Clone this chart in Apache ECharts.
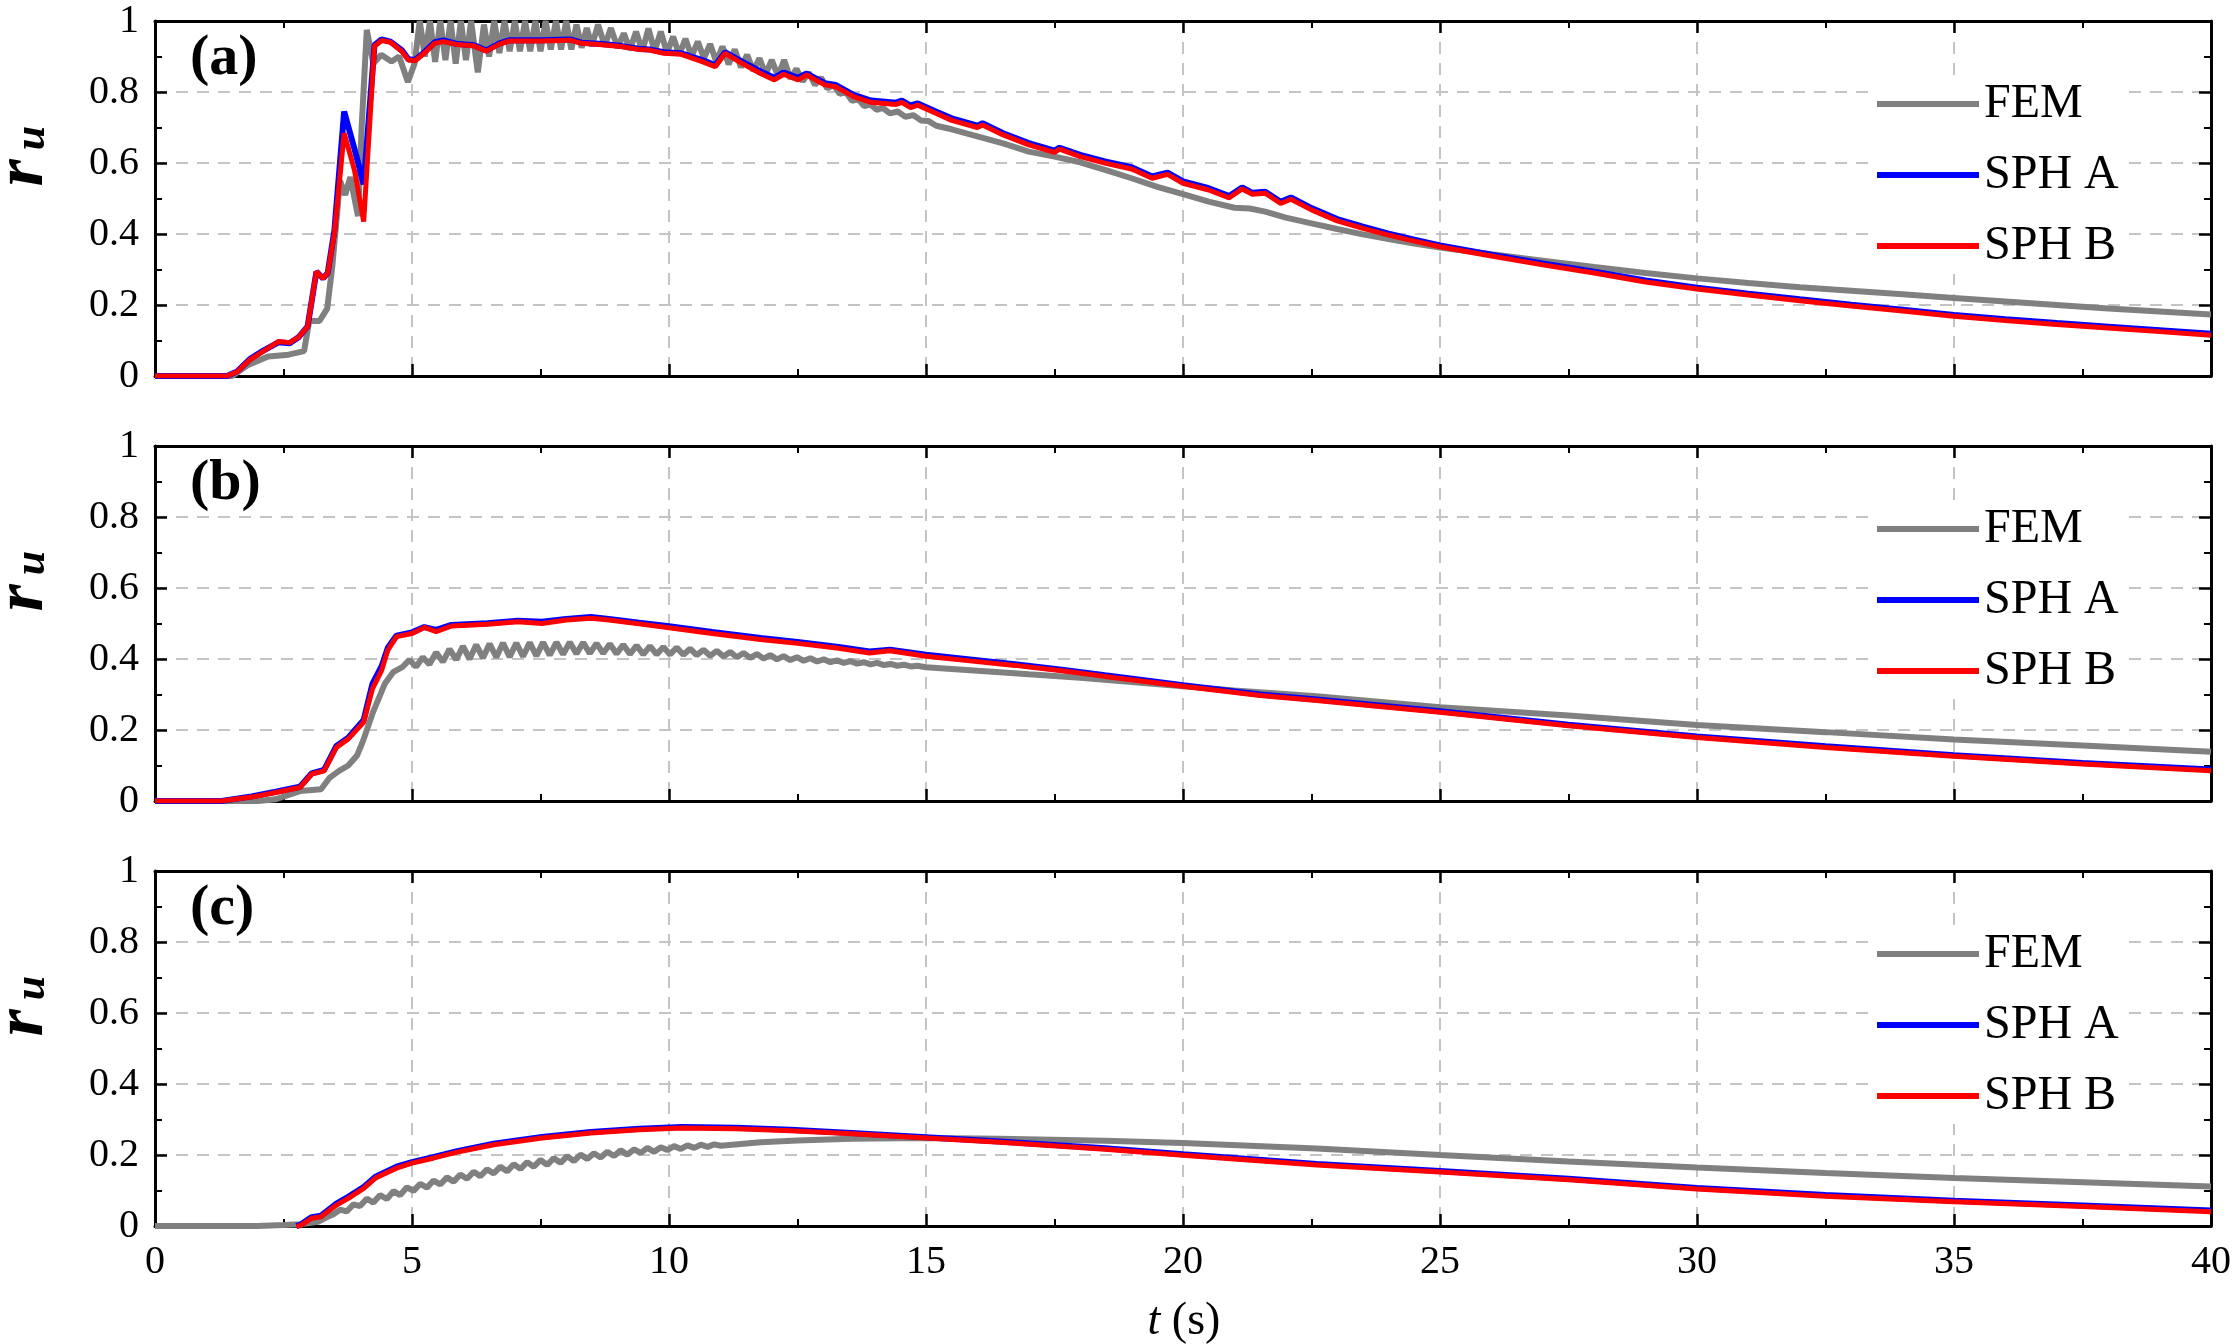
<!DOCTYPE html>
<html><head><meta charset="utf-8">
<script src="https://cdn.jsdelivr.net/npm/echarts@6/dist/echarts.min.js"></script>
<style>html,body{margin:0;padding:0;background:#fff}#c{width:2238px;height:1344px}</style>
</head><body><div id="c"></div>
<script>
// ---------- DATA ----------
const xTickLabels = ['0','5','10','15','20','25','30','35','40'];
const yTickLabels = ['0','0.2','0.4','0.6','0.8','1'];
const panelLabels = ['(a)','(b)','(c)'];
const seriesNames = ['FEM','SPH A','SPH B'];

// FEM, panel (a): [t, r_u]
const femA = [[0,0],[1.5,0],[1.8,0.03],[2.2,0.055],[2.6,0.06],[2.9,0.07],[3.0,0.155],[3.2,0.155],[3.35,0.19],[3.45,0.31],[3.6,0.55],[3.7,0.51],[3.8,0.56],[3.95,0.45],[4.02,0.7],[4.12,0.975],[4.25,0.88],[4.4,0.905],[4.6,0.886],[4.75,0.9],[4.92,0.828],[5.05,0.88],
[5.15,1.0],[5.25,0.9],[5.35,1.0],[5.45,0.885],[5.55,1.0],[5.65,0.89],[5.75,1.0],[5.85,0.88],[5.95,1.0],[6.05,0.89],[6.15,1.0],[6.28,0.855],[6.4,0.99],[6.5,0.9],[6.6,1.0],[6.7,0.91],[6.8,1.0],[6.9,0.915],[7.0,1.0],[7.1,0.915],[7.2,1.0],[7.3,0.915],[7.4,1.0],[7.5,0.915],[7.6,1.0],[7.7,0.92],[7.8,1.0],[7.9,0.92],[8.0,1.0],[8.1,0.92],[8.2,0.99],[8.3,0.925],[8.4,0.98],[8.5,0.93],[8.62,0.99],[8.75,0.93],[8.87,0.98],
[9.0,0.925],[9.12,0.965],[9.24,0.92],[9.36,0.97],[9.48,0.915],[9.6,0.979],[9.72,0.915],[9.84,0.97],[9.96,0.91],[10.08,0.956],[10.2,0.905],[10.32,0.95],[10.44,0.9],[10.56,0.942],[10.68,0.895],[10.8,0.935],[10.92,0.885],[11.04,0.928],[11.16,0.878],[11.28,0.92],[11.4,0.87],[11.52,0.905],[11.64,0.86],[11.76,0.895],[11.88,0.85],[12.0,0.89],[12.12,0.845],[12.24,0.89],[12.36,0.838],[12.48,0.865],[12.6,0.83],[12.72,0.855],[12.84,0.82],[12.96,0.84],[13.08,0.81],[13.2,0.82],[13.32,0.795],[13.44,0.8],[13.56,0.775],[13.68,0.78],[13.8,0.76],[13.92,0.765],[14.04,0.75],[14.16,0.755],[14.3,0.74],[14.45,0.745],[14.6,0.73],[14.75,0.735],[14.9,0.72],[15.05,0.718],[15.2,0.705],[15.5,0.695],[16,0.675],[16.5,0.655],[17,0.632],[17.5,0.618],[18,0.602],[18.5,0.58],[19,0.557],[19.5,0.533],[20,0.512],[20.5,0.491],[21,0.474],[21.3,0.472],[21.6,0.463],[22,0.446],[22.5,0.43],[23,0.414],[23.5,0.399],[24,0.386],[24.5,0.373],[25,0.362],[26,0.343],[27,0.325],[28,0.307],[29,0.29],[30,0.275],[31,0.262],[32,0.25],[33,0.24],[34,0.23],[35,0.22],[36,0.21],[37,0.2],[38,0.19],[39,0.182],[40,0.173]];

// SPH, panel (a): [t, SPH A, SPH B]
const sphA = [[0,0,0],[1.4,0,0],[1.6,0.013,0.012],[1.84,0.047,0.045],[2.1,0.071,0.069],[2.4,0.095,0.097],[2.62,0.092,0.094],[2.8,0.11,0.11],[2.97,0.14,0.139],[3.14,0.294,0.294],[3.27,0.275,0.275],[3.36,0.29,0.29],[3.49,0.41,0.4],[3.68,0.745,0.684],[3.88,0.64,0.58],[4.06,0.54,0.435],[4.27,0.932,0.929],[4.41,0.948,0.945],[4.58,0.942,0.94],[4.8,0.918,0.915],[4.93,0.892,0.89],[5.06,0.89,0.888],[5.26,0.915,0.912],[5.44,0.94,0.937],[5.61,0.945,0.942],[5.86,0.936,0.934],[6.2,0.932,0.93],[6.45,0.917,0.915],[6.69,0.936,0.934],[6.9,0.946,0.944],[7.5,0.946,0.944],[8.08,0.948,0.946],[8.3,0.939,0.937],[8.64,0.936,0.934],[9.06,0.93,0.928],[9.41,0.922,0.92],[9.62,0.92,0.918],[9.9,0.912,0.909],[10.24,0.909,0.906],[10.66,0.889,0.885],[10.9,0.875,0.871],[11.09,0.912,0.909],[11.43,0.885,0.88],[11.78,0.858,0.852],[12.05,0.84,0.834],[12.23,0.855,0.85],[12.51,0.84,0.834],[12.68,0.852,0.848],[13.03,0.825,0.82],[13.24,0.82,0.815],[13.59,0.792,0.787],[13.93,0.776,0.771],[14.42,0.77,0.765],[14.53,0.776,0.771],[14.7,0.762,0.756],[14.84,0.768,0.763],[15.19,0.745,0.74],[15.5,0.726,0.72],[16.0,0.705,0.7],[16.1,0.712,0.707],[16.5,0.684,0.679],[17.0,0.656,0.651],[17.5,0.635,0.63],[17.6,0.643,0.639],[18.0,0.623,0.618],[18.5,0.604,0.599],[19.0,0.588,0.583],[19.4,0.562,0.557],[19.7,0.573,0.568],[20.0,0.548,0.543],[20.5,0.529,0.524],[20.9,0.507,0.502],[21.15,0.531,0.527],[21.35,0.516,0.512],[21.6,0.519,0.515],[21.9,0.491,0.486],[22.1,0.503,0.498],[22.5,0.473,0.468],[23.0,0.442,0.437],[23.5,0.421,0.416],[24.0,0.401,0.397],[24.5,0.384,0.38],[25,0.368,0.364],[26,0.342,0.338],[27,0.317,0.313],[28,0.294,0.29],[29,0.269,0.265],[30,0.249,0.245],[31,0.232,0.228],[32,0.216,0.212],[33,0.201,0.197],[34,0.187,0.183],[35,0.172,0.168],[36,0.16,0.156],[37,0.149,0.145],[38,0.139,0.135],[39,0.129,0.125],[40,0.119,0.115]];

// FEM, panel (b)
const femB = [[0,0],[2.0,0],[2.35,0.005],[2.82,0.028],[3.23,0.033],[3.4,0.066],[3.58,0.085],[3.76,0.1],[3.93,0.128],[4.05,0.17],[4.23,0.246],[4.47,0.33],[4.64,0.364],[4.82,0.378],
[4.95,0.398],[5.08,0.378],[5.21,0.405],[5.34,0.385],[5.47,0.418],[5.6,0.392],[5.73,0.428],[5.86,0.398],[5.99,0.436],[6.12,0.4],[6.25,0.44],[6.38,0.403],[6.51,0.443],[6.64,0.405],[6.77,0.445],[6.9,0.406],[7.03,0.445],[7.16,0.407],[7.29,0.446],[7.42,0.409],[7.55,0.447],[7.68,0.411],[7.81,0.447],[7.94,0.413],[8.07,0.447],[8.2,0.415],[8.33,0.446],[8.46,0.416],[8.59,0.444],[8.72,0.416],[8.85,0.442],[8.98,0.415],[9.11,0.44],[9.24,0.414],[9.37,0.438],[9.5,0.413],[9.63,0.436],[9.76,0.413],[9.89,0.434],[10.02,0.413],[10.15,0.432],[10.28,0.412],[10.41,0.429],[10.54,0.411],[10.67,0.426],[10.8,0.409],[10.93,0.423],[11.06,0.407],[11.19,0.42],[11.32,0.405],[11.45,0.417],[11.58,0.403],[11.71,0.414],[11.84,0.401],[11.97,0.411],[12.1,0.399],[12.23,0.408],[12.36,0.397],[12.49,0.405],[12.62,0.395],[12.75,0.402],[12.88,0.393],[13.01,0.399],[13.14,0.391],[13.27,0.396],[13.4,0.389],[13.53,0.394],[13.66,0.387],[13.79,0.391],[13.92,0.385],[14.05,0.389],[14.18,0.383],[14.31,0.386],[14.44,0.381],[14.57,0.384],[14.7,0.379],[14.83,0.381],[15.0,0.377],[15.5,0.372],[16,0.367],[16.44,0.363],[17,0.357],[18,0.347],[19,0.335],[20,0.323],[21,0.311],[22.6,0.295],[25,0.264],[27.5,0.241],[30,0.214],[32.5,0.194],[35,0.173],[37.5,0.156],[40,0.139]];

// SPH, panel (b): [t, SPH A, SPH B]
const sphB = [[0,0,0],[1.3,0,0],[1.88,0.013,0.011],[2.35,0.026,0.024],[2.82,0.04,0.038],[3.05,0.078,0.076],[3.29,0.088,0.085],[3.53,0.155,0.151],[3.76,0.178,0.175],[4.06,0.228,0.222],[4.23,0.33,0.316],[4.41,0.38,0.368],[4.53,0.432,0.425],[4.7,0.466,0.463],[5.0,0.475,0.472],[5.24,0.49,0.489],[5.47,0.482,0.477],[5.77,0.496,0.493],[6.47,0.501,0.498],[7.06,0.508,0.505],[7.53,0.505,0.5],[8.0,0.513,0.51],[8.48,0.518,0.515],[8.83,0.513,0.51],[9.42,0.502,0.499],[10,0.492,0.488],[10.84,0.476,0.472],[11.78,0.459,0.455],[12.5,0.448,0.444],[13.3,0.434,0.43],[13.9,0.421,0.417],[14.3,0.426,0.423],[15,0.412,0.408],[15.9,0.398,0.394],[16.73,0.385,0.382],[17.68,0.369,0.366],[18.48,0.354,0.351],[20,0.326,0.323],[21.5,0.3,0.297],[22.6,0.286,0.283],[25,0.253,0.25],[27.5,0.215,0.212],[30,0.182,0.179],[32.5,0.154,0.151],[35,0.129,0.126],[37.5,0.107,0.104],[40,0.089,0.085]];

// FEM, panel (c)
const femC = [[0,0],[2.0,0],[2.5,0.003],[2.82,0.005],[3.17,0.012],[3.35,0.025],[3.47,0.033],
[3.6,0.046],[3.73,0.041],[3.86,0.061],[3.99,0.056],[4.12,0.077],[4.25,0.066],[4.38,0.087],[4.51,0.076],[4.64,0.098],[4.77,0.087],[4.9,0.109],[5.03,0.099],[5.16,0.119],[5.29,0.108],[5.42,0.128],[5.55,0.117],[5.68,0.137],[5.81,0.125],[5.94,0.145],[6.07,0.133],[6.2,0.153],[6.33,0.14],[6.46,0.16],[6.59,0.148],[6.72,0.167],[6.85,0.154],[6.98,0.174],[7.11,0.161],[7.24,0.18],[7.37,0.167],[7.5,0.186],[7.63,0.172],[7.76,0.191],[7.89,0.178],[8.02,0.197],[8.15,0.183],[8.28,0.201],[8.41,0.189],[8.54,0.205],[8.67,0.193],[8.8,0.209],[8.93,0.197],[9.06,0.213],[9.19,0.201],[9.32,0.216],[9.45,0.206],[9.58,0.22],[9.71,0.209],[9.84,0.222],[9.97,0.214],[10.1,0.225],[10.23,0.217],[10.36,0.227],[10.49,0.22],[10.62,0.229],[10.75,0.223],[10.88,0.23],[11.01,0.226],
[11.78,0.236],[12.5,0.241],[13.55,0.246],[15,0.248],[16.44,0.246],[18.48,0.24],[20,0.234],[22.6,0.218],[25,0.2],[27.5,0.182],[30,0.165],[32.5,0.149],[35,0.135],[37.5,0.123],[40,0.111]];

// SPH, panel (c): [t, SPH A, SPH B]
const sphC = [[2.75,0,0],[2.82,0.003,0],[3.05,0.025,0.022],[3.23,0.029,0.026],[3.53,0.063,0.059],[3.76,0.082,0.078],[4.06,0.11,0.106],[4.29,0.139,0.135],[4.7,0.167,0.163],[5.0,0.18,0.177],[5.41,0.194,0.191],[5.88,0.211,0.208],[6.59,0.232,0.229],[7.53,0.251,0.248],[8.48,0.265,0.262],[9.42,0.274,0.271],[10.25,0.279,0.276],[11.3,0.277,0.274],[12.37,0.271,0.268],[13.55,0.262,0.26],[15,0.25,0.248],[16.44,0.238,0.236],[18.48,0.219,0.216],[20,0.202,0.199],[22.6,0.175,0.172],[25,0.155,0.152],[27.5,0.133,0.13],[30,0.107,0.104],[32.5,0.087,0.084],[35,0.071,0.068],[37.5,0.058,0.055],[40,0.044,0.04]];

// ---------- CHART ----------
const FONT = "'Liberation Serif','Times New Roman',serif";
const COLORS = {FEM:'#808080', 'SPH A':'#0000ff', 'SPH B':'#ff0000'};
const GRID_TOPS = [21, 446, 871];
const GRID_H = 355, GRID_L = 155, GRID_W = 2056;
const panels = [{fem: femA, sph: sphA}, {fem: femB, sph: sphB}, {fem: femC, sph: sphC}];

const grids = GRID_TOPS.map(t => ({left: GRID_L, top: t, width: GRID_W, height: GRID_H, containLabel: false}));
const splitStyle = {show: true, showMinLine: false, showMaxLine: false, lineStyle: {color: '#c4c4c4', width: 2, type: [12, 9]}};
const tickCommon = {
  axisTick: {show: true, inside: true, length: 12, lineStyle: {color: '#000', width: 2.5}},
  minorTick: {show: true, splitNumber: 2, length: 7, lineStyle: {color: '#000', width: 2}},
};
const xAxes = [], yAxes = [];
GRID_TOPS.forEach((_, i) => {
  const xb = {gridIndex: i, type: 'value', min: 0, max: 40, interval: 5,
    axisLine: {show: true, onZero: false, lineStyle: {color: '#000', width: 3}}, ...tickCommon};
  xAxes.push(Object.assign({}, xb, {position: 'bottom', splitLine: splitStyle,
    axisLabel: {show: i === 2, margin: 16, fontSize: 40, fontFamily: FONT, color: '#000',
      formatter: v => xTickLabels[Math.round(v / 5)]}}));
  xAxes.push(Object.assign({}, xb, {position: 'top', splitLine: {show: false}, axisLabel: {show: false}}));
  const yb = {gridIndex: i, type: 'value', min: 0, max: 1, interval: 0.2,
    axisLine: {show: true, onZero: false, lineStyle: {color: '#000', width: 3}}, ...tickCommon};
  yAxes.push(Object.assign({}, yb, {position: 'left', splitLine: splitStyle,
    axisLabel: {show: true, margin: 16, fontSize: 40, fontFamily: FONT, color: '#000',
      formatter: v => yTickLabels[Math.round(v * 5)]}}));
  yAxes.push(Object.assign({}, yb, {position: 'right', splitLine: {show: false}, axisLabel: {show: false}}));
});

const series = [];
panels.forEach((p, i) => {
  const common = {type: 'line', xAxisIndex: 2 * i, yAxisIndex: 2 * i, showSymbol: false, symbol: 'none', animation: false, clip: true};
  series.push(Object.assign({}, common, {name: 'FEM', data: p.fem, z: 2,
    lineStyle: {color: COLORS.FEM, width: 6}, itemStyle: {color: COLORS.FEM}}));
  series.push(Object.assign({}, common, {name: 'SPH A', data: p.sph.map(r => [r[0], r[1]]), z: 3,
    lineStyle: {color: COLORS['SPH A'], width: 6}, itemStyle: {color: COLORS['SPH A']}}));
  series.push(Object.assign({}, common, {name: 'SPH B', data: p.sph.map(r => [r[0], r[2]]), z: 4,
    lineStyle: {color: COLORS['SPH B'], width: 5}, itemStyle: {color: COLORS['SPH B']}}));
});

const legends = GRID_TOPS.map(t => ({
  left: 1871, top: t + 55, orient: 'vertical', icon: 'rect', itemWidth: 102, itemHeight: 6,
  itemGap: 23, itemTextGap: 22, backgroundColor: '#fff', padding: [4, 10, 4, 6],
  textStyle: {fontSize: 48, lineHeight: 48, fontFamily: FONT, color: '#000'},
  itemStyle: {borderWidth: 0}, selectedMode: false, data: seriesNames
}));

const graphics = [];
GRID_TOPS.forEach((t, i) => {
  graphics.push({type: 'text', left: 190, top: t + 9, z: 100,
    style: {text: panelLabels[i], font: 'bold 58px ' + FONT, fill: '#000'}});
  graphics.push({type: 'text', x: 24, y: t + 152, rotation: Math.PI / 2, z: 100,
    style: {text: 'r', font: 'italic bold 70px ' + FONT, fill: '#000', align: 'center', verticalAlign: 'middle', textAlign: 'center', textVerticalAlign: 'middle'}});
  graphics.push({type: 'text', x: 33, y: t + 117, rotation: Math.PI / 2, z: 100,
    style: {text: 'u', font: 'italic bold 44px ' + FONT, fill: '#000', align: 'center', verticalAlign: 'middle', textAlign: 'center', textVerticalAlign: 'middle'}});
});
graphics.push({type: 'text', x: 1184, y: 1322, z: 100,
  style: {text: '{i|t}{n| (s)}', align: 'center', verticalAlign: 'middle', textAlign: 'center', textVerticalAlign: 'middle',
    rich: {i: {fontStyle: 'italic', fontSize: 46, fontFamily: FONT, color: '#000'}, n: {fontSize: 46, fontFamily: FONT, color: '#000'}}}});

const chart = echarts.init(document.getElementById('c'), null, {renderer: 'canvas'});
chart.setOption({
  backgroundColor: '#fff',
  animation: false,
  grid: grids,
  xAxis: xAxes,
  yAxis: yAxes,
  legend: legends,
  series: series,
  graphic: graphics
});
</script></body></html>
